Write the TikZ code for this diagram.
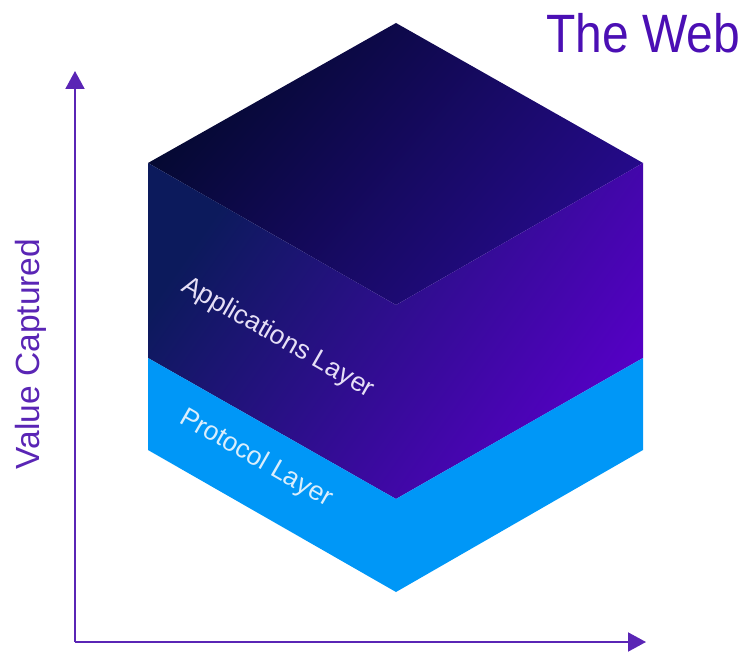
\documentclass[tikz,border=0pt]{standalone}
\usepackage{fontspec}
\setmainfont{Liberation Sans}
\usetikzlibrary{arrows.meta}
\definecolor{webpurple}{HTML}{4B0FB4}
\definecolor{axispurple}{HTML}{5A25B5}
\definecolor{topdark}{HTML}{040930}
\definecolor{topright}{HTML}{260A8C}
\definecolor{frontdark}{HTML}{0C1A5C}
\definecolor{frontpurple}{HTML}{5500C5}
\definecolor{protoblue}{HTML}{0097F7}
\definecolor{applabel}{HTML}{E6DFF6}
\definecolor{protolabel}{HTML}{DAEEFC}
\tikzset{
  axisline/.style={draw=axispurple, line width=2pt, -{Triangle[length=18pt,width=19pt]}},
  layerlabel/.style={font=\fontsize{26.5}{31}\selectfont, rotate=-29.8, anchor=center},
}
\begin{document}
\begin{tikzpicture}[x=1pt,y=-1pt]
\useasboundingbox (0,0) rectangle (747,652);
% cube corners
\coordinate (T) at (396,23);
\coordinate (L) at (148,163);
\coordinate (R) at (643,163);
\coordinate (C) at (396,305);
\coordinate (LM) at (148,358);
\coordinate (RM) at (643,358);
\coordinate (BM) at (396,499);
\coordinate (LB) at (148,450);
\coordinate (RB) at (643,450);
\coordinate (B) at (396,592);
% top face
\shade[top color=topdark, bottom color=topright, shading angle=50] (T) -- (R) -- (C) -- (L) -- cycle;
% applications layer (front)
\shade[top color=frontdark, bottom color=frontpurple, shading angle=55]
  (L) -- (C) -- (R) -- (RM) -- (BM) -- (LM) -- cycle;
% protocol layer
\fill[protoblue] (LM) -- (BM) -- (RM) -- (RB) -- (B) -- (LB) -- cycle;
% labels
\node[layerlabel, text=applabel] (app) at (278,338) {Applications Layer};
\node[layerlabel, text=protolabel] (proto) at (256,459) {Protocol Layer};
% axes
\coordinate (O) at (75,642);
\coordinate (ytip) at (75,71);
\coordinate (xtip) at (646,642);
\draw[axisline] (O) -- (ytip);
\draw[axisline] (O) -- (xtip);
\node[text=axispurple, rotate=90, anchor=base, font=\fontsize{33.5}{40}\selectfont] (vc) at (39,354) {Value Captured};
\node[text=webpurple, anchor=base, font=\fontsize{50}{60}\selectfont, xscale=0.96, yscale=1.08] (web) at (643,53) {The Web};
\end{tikzpicture}
\end{document}
